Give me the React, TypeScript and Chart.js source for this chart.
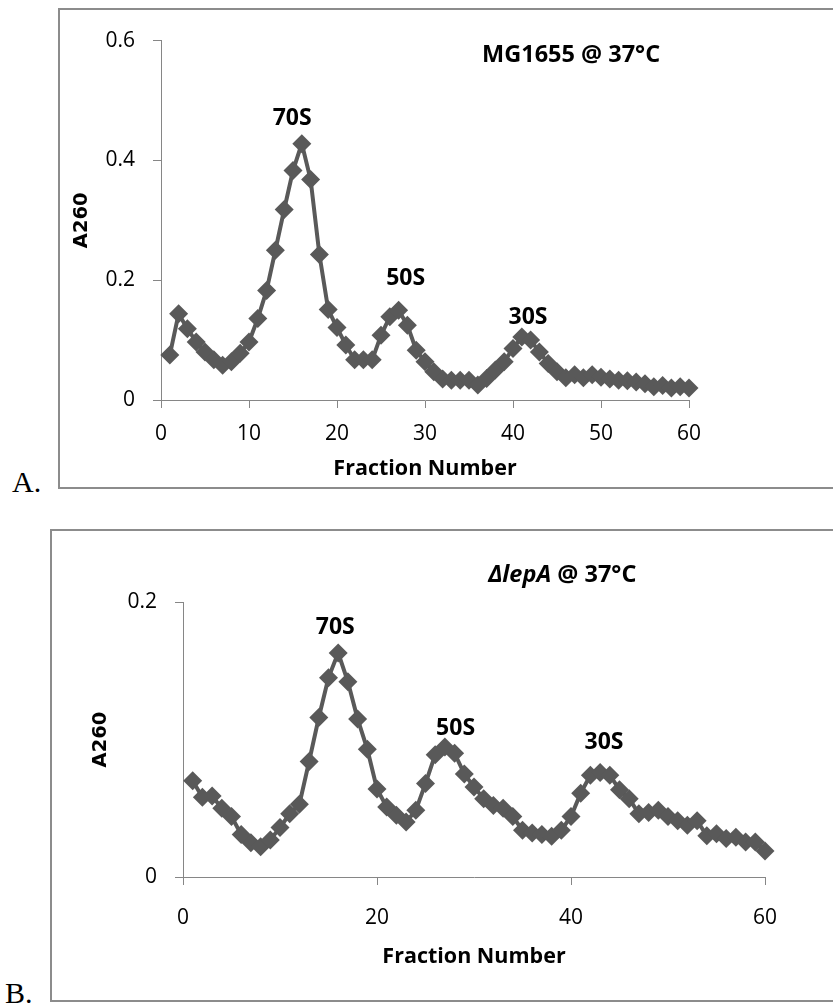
import React, { useEffect, useRef } from 'react';
import { Chart, registerables } from 'chart.js';

Chart.register(...registerables);

// ---------- data ----------
const fractions = [
  1, 2, 3, 4, 5, 6, 7, 8, 9, 10, 11, 12, 13, 14, 15, 16, 17, 18, 19, 20,
  21, 22, 23, 24, 25, 26, 27, 28, 29, 30, 31, 32, 33, 34, 35, 36, 37, 38, 39, 40,
  41, 42, 43, 44, 45, 46, 47, 48, 49, 50, 51, 52, 53, 54, 55, 56, 57, 58, 59, 60,
];

// Panel A: MG1655 @ 37°C
const a260A = [
  0.075, 0.144, 0.119, 0.097, 0.080, 0.067, 0.058, 0.064, 0.078, 0.097,
  0.136, 0.183, 0.250, 0.318, 0.383, 0.428, 0.368, 0.243, 0.151, 0.121,
  0.092, 0.067, 0.067, 0.067, 0.108, 0.139, 0.150, 0.125, 0.083, 0.064,
  0.047, 0.035, 0.033, 0.033, 0.033, 0.025, 0.036, 0.050, 0.064, 0.086,
  0.105, 0.100, 0.080, 0.061, 0.047, 0.037, 0.042, 0.037, 0.042, 0.038,
  0.035, 0.033, 0.032, 0.030, 0.027, 0.022, 0.024, 0.020, 0.022, 0.020,
];

// Panel B: ΔlepA @ 37°C
const a260B = [
  0.070, 0.058, 0.059, 0.050, 0.044, 0.031, 0.025, 0.022, 0.027, 0.036,
  0.046, 0.053, 0.084, 0.116, 0.145, 0.163, 0.142, 0.115, 0.093, 0.064,
  0.051, 0.045, 0.040, 0.0485, 0.068, 0.089, 0.0945, 0.090, 0.075, 0.0655,
  0.057, 0.052, 0.050, 0.044, 0.034, 0.032, 0.031, 0.0296, 0.034, 0.044,
  0.061, 0.074, 0.076, 0.074, 0.0635, 0.057, 0.046, 0.047, 0.0485, 0.044,
  0.041, 0.0376, 0.041, 0.030, 0.0315, 0.028, 0.029, 0.0255, 0.0255, 0.019,
];

const xTicksA = [0, 10, 20, 30, 40, 50, 60];
const yTicksA = [0, 0.2, 0.4, 0.6];
const xTicksB = [0, 20, 40, 60];
const yTicksB = [0, 0.2];

const peakNames = ['70S', '50S', '30S'];
const peakXA = [14.9, 27.8, 41.7];
const peakYA = [0.47, 0.203, 0.138];
const peakXB = [15.7, 28.1, 43.4];
const peakYB = [0.1818, 0.108, 0.0975];

const titleA = [{ text: 'MG1655 @ 37°C', italic: false }];
const titleAPos = [46.6, 0.575];
const titleB = [
  { text: 'ΔlepA', italic: true },
  { text: ' @ 37°C', italic: false },
];
const titleBPos = [39.1, 0.2194];

const xTitle = 'Fraction Number';
const yTitle = 'A260';

// ---------- styles ----------
const SERIES = '#595959';
const AXIS = '#868686';
const FRAME = '#8c8c8c';
const SANS = '"Open Sans", "Noto Sans", sans-serif';

type Seg = { text: string; italic: boolean };

type PanelCfg = {
  values: number[];
  xTicks: number[];
  yTicks: number[];
  xMax: number;
  yMax: number;
  peakX: number[];
  peakY: number[];
  title: Seg[];
  titlePos: number[];
  width: number;
  height: number;
  area: { left: number; top: number; right: number; bottom: number };
  yTitleOffset: number;
  xTitleOffset: number;
  xTickPad: number;
  yTickPad: number;
};

function makeChart(canvas: HTMLCanvasElement, cfg: PanelCfg) {
  const labelPlugin = {
    id: 'peakLabels',
    afterDatasetsDraw(chart: any) {
      const { ctx } = chart;
      const xs = chart.scales.x;
      const ys = chart.scales.y;
      ctx.save();
      ctx.fillStyle = '#000';
      ctx.textBaseline = 'middle';
      ctx.textAlign = 'center';
      ctx.font = `bold 23px ${SANS}`;
      for (let i = 0; i < peakNames.length; i++) {
        ctx.fillText(peakNames[i], xs.getPixelForValue(cfg.peakX[i]), ys.getPixelForValue(cfg.peakY[i]));
      }
      // title made of segments
      const fonts = cfg.title.map((s) => `${s.italic ? 'italic ' : ''}bold 23.5px ${SANS}`);
      const widths = cfg.title.map((s, i) => {
        ctx.font = fonts[i];
        return ctx.measureText(s.text).width;
      });
      const total = widths.reduce((a, b) => a + b, 0);
      let x = xs.getPixelForValue(cfg.titlePos[0]) - total / 2;
      const y = ys.getPixelForValue(cfg.titlePos[1]);
      ctx.textAlign = 'left';
      cfg.title.forEach((s, i) => {
        ctx.font = fonts[i];
        ctx.fillText(s.text, x, y);
        x += widths[i];
      });
      ctx.restore();
    },
  };

  return new Chart(canvas, {
    type: 'line',
    data: {
      datasets: [
        {
          data: fractions.map((f, i) => ({ x: f, y: cfg.values[i] })),
          borderColor: SERIES,
          backgroundColor: SERIES,
          borderWidth: 4,
          pointStyle: 'rectRot',
          pointRadius: 9.5,
          pointBorderWidth: 0,
          pointBackgroundColor: SERIES,
          pointBorderColor: SERIES,
          tension: 0,
          clip: false as any,
        },
      ],
    },
    options: {
      responsive: false,
      animation: false,
      devicePixelRatio: 1,
      layout: {
        padding: {
          left: 0,
          top: cfg.area.top,
          right: cfg.width - cfg.area.right,
          bottom: 0,
        },
      },
      plugins: {
        legend: { display: false },
        tooltip: { enabled: false },
        title: { display: false },
      },
      scales: {
        x: {
          type: 'linear',
          min: 0,
          max: cfg.xMax,
          afterFit: (s: any) => {
            s.height = cfg.height - cfg.area.bottom;
          },
          afterBuildTicks: (s: any) => {
            s.ticks = cfg.xTicks.map((v) => ({ value: v }));
          },
          grid: {
            drawOnChartArea: false,
            drawTicks: true,
            tickLength: 8,
            tickColor: AXIS,
            tickWidth: 1,
          },
          border: { display: true, color: AXIS, width: 1 },
          ticks: {
            color: '#000',
            font: { family: SANS, size: 21 },
            padding: cfg.xTickPad,
            maxRotation: 0,
            autoSkip: false,
            callback: (v: any) => String(+Number(v).toFixed(2)),
          },
          title: {
            display: true,
            text: xTitle,
            color: '#000',
            font: { family: SANS, size: 21.5, weight: 'bold' },
            padding: { top: 0, bottom: cfg.xTitleOffset },
          },
        },
        y: {
          type: 'linear',
          min: 0,
          max: cfg.yMax,
          afterFit: (s: any) => {
            s.width = cfg.area.left;
          },
          afterBuildTicks: (s: any) => {
            s.ticks = cfg.yTicks.map((v) => ({ value: v }));
          },
          grid: {
            drawOnChartArea: false,
            drawTicks: true,
            tickLength: 8,
            tickColor: AXIS,
            tickWidth: 1,
          },
          border: { display: true, color: AXIS, width: 1 },
          ticks: {
            color: '#000',
            font: { family: SANS, size: 21 },
            padding: cfg.yTickPad,
            autoSkip: false,
            callback: (v: any) => String(+Number(v).toFixed(2)),
          },
          title: {
            display: true,
            text: yTitle,
            color: '#000',
            font: { family: '"DejaVu Sans", sans-serif', size: 19.5, weight: 'bold' },
            padding: { top: cfg.yTitleOffset, bottom: 0 },
          },
        },
      },
    } as any,
    plugins: [labelPlugin],
  });
}

const cfgA: PanelCfg = {
  values: a260A,
  xTicks: xTicksA,
  yTicks: yTicksA,
  xMax: 60,
  yMax: 0.6,
  peakX: peakXA,
  peakY: peakYA,
  title: titleA,
  titlePos: titleAPos,
  width: 773,
  height: 476,
  area: { left: 101, top: 30, right: 629, bottom: 390 },
  yTitleOffset: 10,
  xTitleOffset: 4,
  xTickPad: 13,
  yTickPad: 18,
};

const cfgB: PanelCfg = {
  values: a260B,
  xTicks: xTicksB,
  yTicks: yTicksB,
  xMax: 60,
  yMax: 0.2,
  peakX: peakXB,
  peakY: peakYB,
  title: titleB,
  titlePos: titleBPos,
  width: 780,
  height: 467,
  area: { left: 130, top: 70, right: 712, bottom: 345 },
  yTitleOffset: 36,
  xTitleOffset: 29,
  xTickPad: 20,
  yTickPad: 18,
};

function Panel({ cfg, left, top }: { cfg: PanelCfg; left: number; top: number }) {
  const ref = useRef<HTMLCanvasElement | null>(null);
  useEffect(() => {
    if (!ref.current) return;
    const chart = makeChart(ref.current, cfg);
    return () => chart.destroy();
  }, [cfg]);
  return (
    <canvas
      ref={ref}
      width={cfg.width}
      height={cfg.height}
      style={{ position: 'absolute', left, top, width: cfg.width, height: cfg.height }}
    />
  );
}

const letterStyle: React.CSSProperties = {
  position: 'absolute',
  fontFamily: '"Liberation Serif", "Times New Roman", serif',
  fontSize: 30,
  lineHeight: '30px',
  color: '#000',
  margin: 0,
};

export default function App() {
  return (
    <div
      style={{
        position: 'absolute',
        left: 0,
        top: 0,
        width: 833,
        height: 1006,
        overflow: 'hidden',
        background: '#fff',
      }}
    >
      <div
        style={{
          position: 'absolute',
          left: 58,
          top: 8,
          width: 800,
          height: 481,
          border: `2px solid ${FRAME}`,
          boxSizing: 'border-box',
        }}
      />
      <Panel cfg={cfgA} left={60} top={10} />
      <div style={{ ...letterStyle, left: 12, top: 467 }}>A.</div>

      <div
        style={{
          position: 'absolute',
          left: 50,
          top: 529,
          width: 800,
          height: 473,
          border: `2px solid ${FRAME}`,
          boxSizing: 'border-box',
        }}
      />
      <Panel cfg={cfgB} left={53} top={532} />
      <div style={{ ...letterStyle, left: 5, top: 978 }}>B.</div>
    </div>
  );
}
